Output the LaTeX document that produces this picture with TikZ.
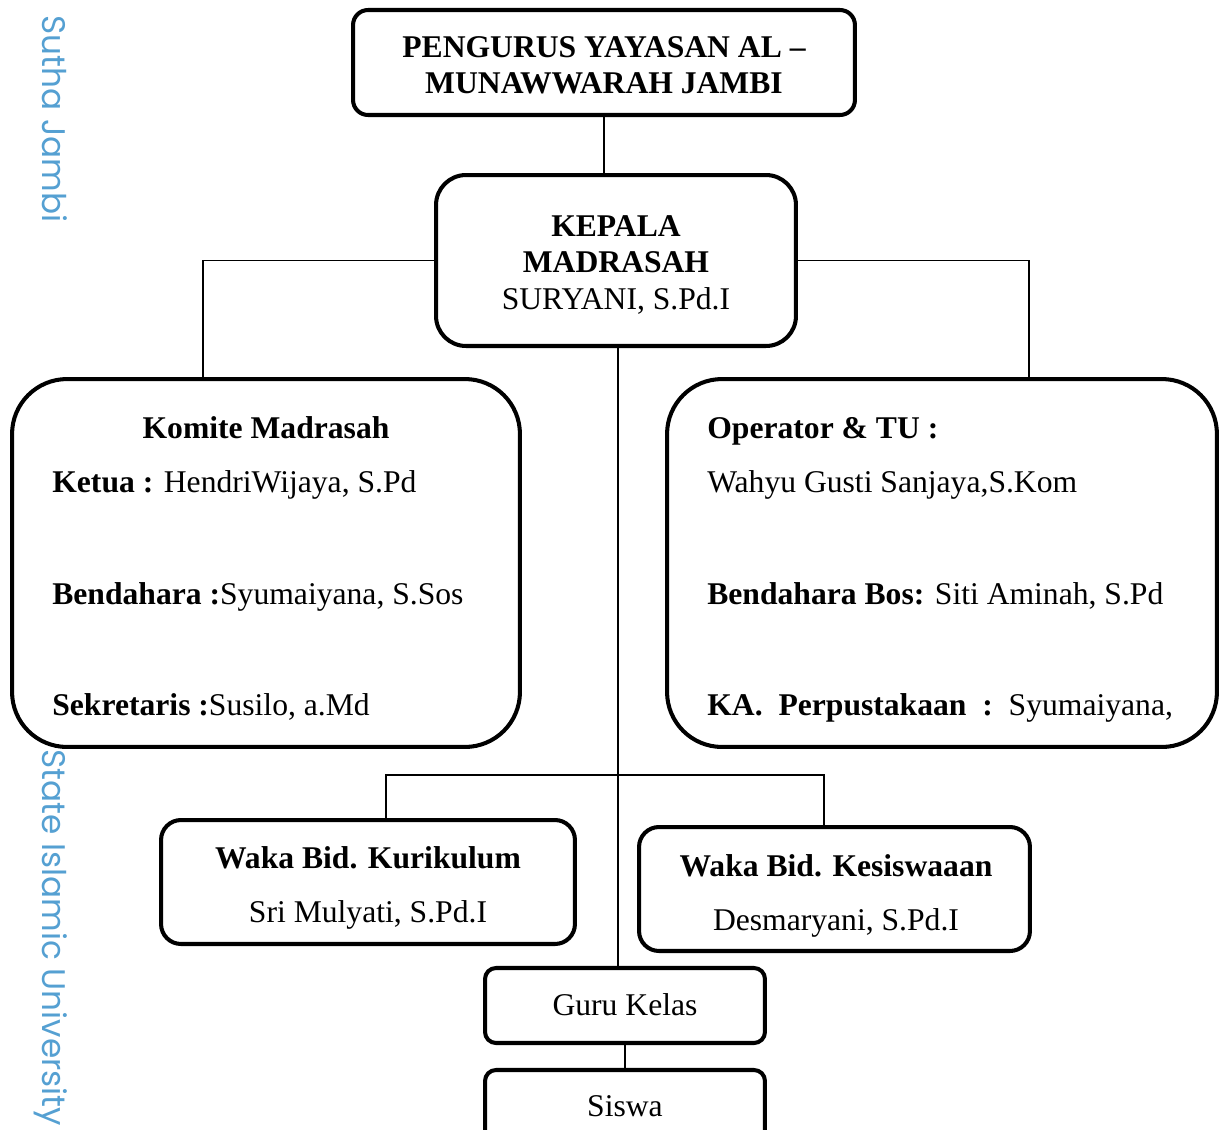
\documentclass[tikz,border=0pt]{standalone}
\usepackage{fontspec}
\setmainfont{Liberation Serif}
\newfontfamily\wmfont{Poppins}
\usetikzlibrary{positioning}
\definecolor{wmblue}{RGB}{85,160,210}

\begin{document}
\begin{tikzpicture}[x=0.02cm, y=-0.02cm,
	kotak/.style={draw, line width=2.3pt, inner sep=0pt},
	garis/.style={line width=0.85pt},
	teks/.style={font=\fontsize{18}{22}\selectfont, inner sep=0pt},
	tanda/.style={text=wmblue, rotate=-90, inner sep=0pt, font=\wmfont\fontsize{18.6}{22}\selectfont}]
	\useasboundingbox (0,0) rectangle (1225,1130);

	% tanda air
	\node[tanda, anchor=base west] (wmatas) at (42,15) {Sutha Jambi};
	\node[tanda, anchor=base west] (wmbawah) at (42,749) {State Islamic University};

	% kotak
	\node[kotak, rounded corners=0.3cm, minimum width=10.04cm, minimum height=2.1cm] (yayasan) at (604,62.5) {};
	\node[kotak, rounded corners=0.6cm, minimum width=7.2cm, minimum height=3.42cm] (kepala) at (616,260.5) {};
	\node[kotak, rounded corners=1.1cm, minimum width=10.16cm, minimum height=7.36cm] (komite) at (266,563) {};
	\node[kotak, rounded corners=1.1cm, minimum width=11.0cm, minimum height=7.36cm] (operator) at (942,563) {};
	\node[kotak, rounded corners=0.4cm, minimum width=8.28cm, minimum height=2.48cm] (kurikulum) at (368,882) {};
	\node[kotak, rounded corners=0.4cm, minimum width=7.82cm, minimum height=2.48cm] (kesiswaan) at (834.5,889) {};
	\node[kotak, rounded corners=0.22cm, minimum width=5.6cm, minimum height=1.5cm] (guru) at (625,1005.5) {};
	\node[kotak, rounded corners=0.22cm, minimum width=5.6cm, minimum height=1.5cm] (siswa) at (625,1107.5) {};

	% teks yayasan dan kepala
	\node[teks, anchor=base] (t1) at (604,57) {\bfseries PENGURUS YAYASAN AL –};
	\node[teks, anchor=base] (t2) at (604,93) {\bfseries MUNAWWARAH JAMBI};
	\node[teks, anchor=base] (t3) at (616,236) {\bfseries KEPALA};
	\node[teks, anchor=base] (t4) at (616,272) {\bfseries MADRASAH};
	\node[teks, anchor=base] (t5) at (616,309) {SURYANI, S.Pd.I};

	% teks komite
	\node[teks, anchor=base] (k1) at (266,438) {\bfseries Komite Madrasah};
	\node[teks, anchor=base west] (k2) at (52,492) {\textbf{Ketua :} HendriWijaya, S.Pd};
	\node[teks, anchor=base west] (k3) at (52,604) {\textbf{Bendahara :}Syumaiyana, S.Sos};
	\node[teks, anchor=base west] (k4) at (52,715) {\textbf{Sekretaris :}Susilo, a.Md};

	% teks operator
	\node[teks, anchor=base west] (o1) at (707,438) {\bfseries Operator \& TU :};
	\node[teks, anchor=base west] (o2) at (707,492) {Wahyu Gusti Sanjaya,S.Kom};
	\node[teks, anchor=base west] (o3) at (707,604) {\textbf{Bendahara Bos:} Siti Aminah, S.Pd};
	\node[teks, anchor=base west] (o4) at (707,715) {\textbf{KA.\ \ Perpustakaan\ \ :}\ \ Syumaiyana,};

	% teks waka, guru, siswa
	\node[teks, anchor=base] (w1) at (368,868) {\bfseries Waka Bid. Kurikulum};
	\node[teks, anchor=base] (w2) at (368,922) {Sri Mulyati, S.Pd.I};
	\node[teks, anchor=base] (w3) at (836,876) {\bfseries Waka Bid. Kesiswaaan};
	\node[teks, anchor=base] (w4) at (836,930) {Desmaryani, S.Pd.I};
	\node[teks, anchor=base] (g1) at (625,1015) {Guru Kelas};
	\node[teks, anchor=base] (s1) at (625,1116) {Siswa};

	% garis
	\coordinate (kiri) at (203,377);
	\coordinate (kanan) at (1029,377);
	\coordinate (cabang) at (618,775);
	\draw[garis] (yayasan.south) -- (yayasan.south |- kepala.north);
	\draw[garis] (kepala.west) -| (kiri);
	\draw[garis] (kepala.east) -| (kanan);
	\draw[garis] ([xshift=0.04cm]kepala.south) -- ([xshift=0.04cm]kepala.south |- guru.north);
	\draw[garis] ([xshift=0.36cm]kurikulum.north) |- (cabang) -| ([xshift=-0.21cm]kesiswaan.north);
	\draw[garis] (guru.south) -- (siswa.north);
\end{tikzpicture}
\end{document}
